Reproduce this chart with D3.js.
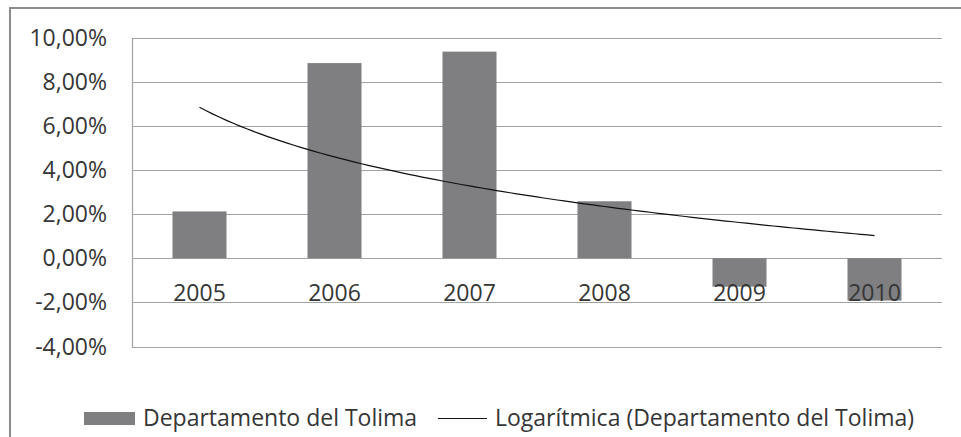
<!DOCTYPE html>
<html>
<head>
<meta charset="utf-8">
<script src="https://cdn.jsdelivr.net/npm/d3@7"></script>
<style>
  body { margin: 0; background: #fff; }
  svg text { font-family: "Open Sans", "Noto Sans", sans-serif; fill: #363636; }
</style>
</head>
<body>
<svg id="chart" width="961" height="437"></svg>
<script>
'use strict';
// values, in percent
const years = ["2005", "2006", "2007", "2008", "2009", "2010"];
const tolima = [2.12, 8.84, 9.36, 2.58, -1.29, -1.92];
const yTicks = [-4, -2, 0, 2, 4, 6, 8, 10];
const seriesName = "Departamento del Tolima";
const trendName = "Logarítmica (Departamento del Tolima)";

const svg = d3.select("#chart");
const plotLeft = 132, plotRight = 942, plotTop = 37.5, plotBottom = 346.5;
const fontSize = "23px";

// outer chart frame (bottom and right sides fall outside the picture)
svg.append("rect")
  .attr("x", 10).attr("y", 8)
  .attr("width", 1000).attr("height", 600)
  .attr("fill", "none")
  .attr("stroke", "#8c8c8c")
  .attr("stroke-width", 2);

const x = d3.scaleBand()
  .domain(years)
  .range([plotLeft, plotRight])
  .paddingInner(0.6)
  .paddingOuter(0.3);

const y = d3.scaleLinear()
  .domain([-4, 10])
  .range([plotBottom, plotTop]);

// Excel style: comma decimals, plain hyphen for negatives
const fmt = function (d) {
  return d3.format(".2f")(d).replace("\u2212", "-").replace(".", ",") + "%";
};

// gridlines
svg.append("g")
  .selectAll("line")
  .data(yTicks)
  .join("line")
  .attr("x1", plotLeft).attr("x2", plotRight)
  .attr("y1", d => Math.round(y(d)) + 0.5)
  .attr("y2", d => Math.round(y(d)) + 0.5)
  .attr("stroke", "#a3a3a3")
  .attr("stroke-width", 1.2);

svg.append("line")
  .attr("x1", plotLeft + 0.5).attr("x2", plotLeft + 0.5)
  .attr("y1", Math.round(plotTop) + 0.5).attr("y2", Math.round(plotBottom) + 0.5)
  .attr("stroke", "#a3a3a3")
  .attr("stroke-width", 1.2);

// y tick labels
svg.append("g")
  .selectAll("text")
  .data(yTicks)
  .join("text")
  .attr("x", 107)
  .attr("y", d => y(d))
  .attr("dy", "0.35em")
  .attr("text-anchor", "end")
  .style("font-size", fontSize)
  .text(fmt);

// bars
svg.append("g")
  .selectAll("rect")
  .data(tolima)
  .join("rect")
  .attr("x", (d, i) => x(years[i]))
  .attr("width", x.bandwidth())
  .attr("y", d => y(Math.max(0, d)))
  .attr("height", d => Math.abs(y(d) - y(0)))
  .attr("fill", "#7f7f82");

// category labels, drawn over the bars
svg.append("g")
  .selectAll("text")
  .data(years)
  .join("text")
  .attr("x", d => x(d) + x.bandwidth() / 2)
  .attr("y", 301)
  .attr("text-anchor", "middle")
  .style("font-size", fontSize)
  .text(d => d);

// logarithmic trendline y = a*ln(k) + b, least squares on k = 1..n
const lnK = tolima.map((d, i) => Math.log(i + 1));
const mx = d3.mean(lnK), my = d3.mean(tolima);
const a = d3.sum(lnK, (l, i) => (l - mx) * (tolima[i] - my)) /
  d3.sum(lnK, l => (l - mx) * (l - mx));
const b = my - a * mx;
const step = x.step();
const x0 = x(years[0]) + x.bandwidth() / 2;
const trendPts = d3.range(1, tolima.length + 0.001, 0.05).map(k => [x0 + (k - 1) * step, y(a * Math.log(k) + b)]);

svg.append("path")
  .datum(trendPts)
  .attr("d", d3.line())
  .attr("fill", "none")
  .attr("stroke", "#111")
  .attr("stroke-width", 1.2);

// legend
const legend = svg.append("g");
legend.append("rect")
  .attr("x", 84).attr("y", 412)
  .attr("width", 51).attr("height", 13)
  .attr("fill", "#7f7f82");
legend.append("text")
  .attr("x", 143).attr("y", 426)
  .style("font-size", fontSize)
  .text(seriesName);
legend.append("line")
  .attr("x1", 438).attr("x2", 487)
  .attr("y1", 418.5).attr("y2", 418.5)
  .attr("stroke", "#111")
  .attr("stroke-width", 1.2);
legend.append("text")
  .attr("x", 495).attr("y", 426)
  .style("font-size", fontSize)
  .text(trendName);
</script>
</body>
</html>
